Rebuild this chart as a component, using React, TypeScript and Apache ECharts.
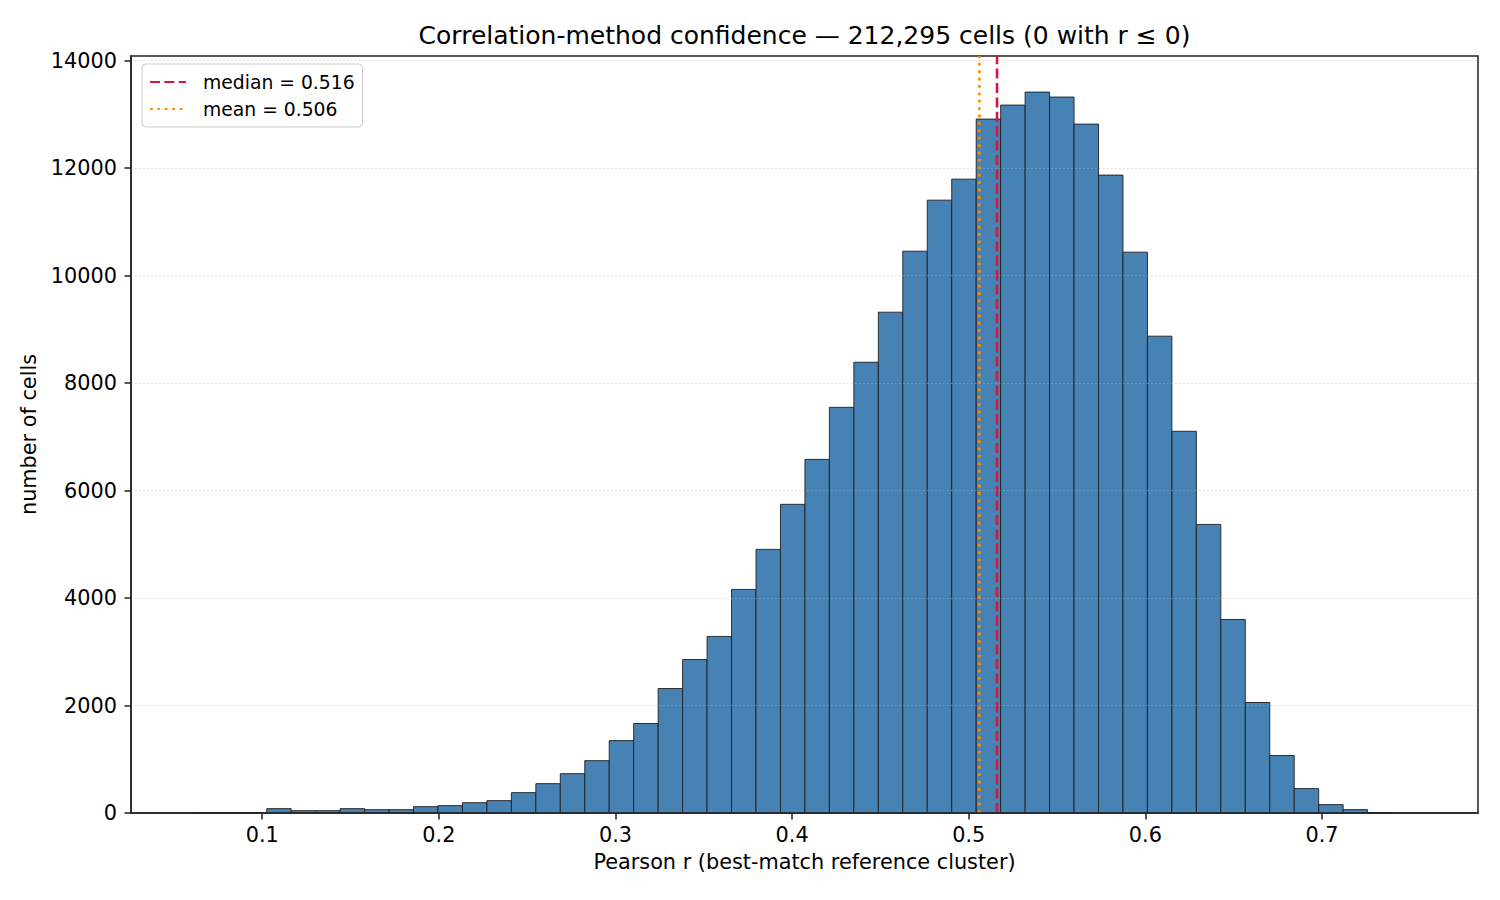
import React, { useEffect, useRef } from "react";
import * as echarts from "echarts";

// histogram of Pearson r, 50 equal-width bins
const BIN_START = 0.061;
const BIN_WIDTH = 0.01385;
const binCounts = [
  2, 2, 3, 81, 43, 43, 81, 62, 62, 118,
  137, 192, 230, 379, 546, 732, 974, 1347, 1665, 2316,
  2856, 3285, 4160, 4905, 5743, 6580, 7548, 8387, 9318, 10453,
  11403, 11794, 12911, 13172, 13414, 13321, 12818, 11869, 10435, 8872,
  7102, 5370, 3601, 2056, 1069, 454, 156, 63, 5, 0,
];
const xTicks = [0.1, 0.2, 0.3, 0.4, 0.5, 0.6, 0.7];
const yTicks = [0, 2000, 4000, 6000, 8000, 10000, 12000, 14000];
const MEDIAN = 0.516;
const MEAN = 0.506;
const Y_MAX = 14085;

const FONT = "DejaVu Sans";
const INK = "#222";

export default function App() {
  const chartRef = useRef<HTMLDivElement>(null);

  useEffect(() => {
    if (!chartRef.current) return;
    const chart = echarts.init(chartRef.current, undefined, { renderer: "svg" });

    const bins = binCounts.map((c, i) => [
      BIN_START + i * BIN_WIDTH,
      BIN_START + (i + 1) * BIN_WIDTH,
      c,
    ]);

    chart.setOption({
      animation: false,
      backgroundColor: "#fff",
      grid: {
        left: 131,
        right: 22,
        top: 56,
        bottom: 87,
        show: true,
        borderColor: INK,
        borderWidth: 1.5,
      },
      graphic: [
        {
          type: "text",
          x: 804.5,
          y: 35,
          style: {
            text: "Correlation-method confidence — 212,295 cells (0 with r ≤ 0)",
            align: "center",
            verticalAlign: "middle",
            fontSize: 25,
            fontFamily: FONT,
            fill: "#000",
          },
        },
      ],
      legend: {
        left: 142,
        top: 64,
        orient: "vertical",
        backgroundColor: "rgba(255,255,255,0.8)",
        borderColor: "#cccccc",
        borderWidth: 1,
        borderRadius: 4,
        padding: [8, 8, 8, 7],
        itemWidth: 36,
        itemHeight: 14,
        itemGap: 7,
        itemStyle: { opacity: 0 },
        textStyle: {
          fontSize: 18.75,
          fontFamily: FONT,
          color: "#000",
          lineHeight: 20,
          padding: [0, 0, 0, 12],
        },
        data: ["median = 0.516", "mean = 0.506"],
      },
      xAxis: {
        type: "value",
        min: 0.0257,
        max: 0.7883,
        z: 10,
        name: "Pearson r (best-match reference cluster)",
        nameLocation: "middle",
        nameGap: 38,
        nameTextStyle: { fontSize: 20.8, fontFamily: FONT, color: "#000" },
        axisLine: { show: true, lineStyle: { color: INK, width: 1.5 } },
        axisTick: {
          show: true,
          length: 6.5,
          customValues: xTicks,
          lineStyle: { color: INK, width: 1.5 },
        },
        axisLabel: {
          customValues: xTicks,
          margin: 11,
          fontSize: 20.8,
          fontFamily: FONT,
          color: "#000",
          formatter: (v: number) => v.toFixed(1),
        },
        splitLine: { show: false },
      },
      yAxis: {
        type: "value",
        min: 0,
        max: Y_MAX,
        interval: 2000,
        z: 10,
        name: "number of cells",
        nameLocation: "middle",
        nameGap: 90,
        nameTextStyle: { fontSize: 20.8, fontFamily: FONT, color: "#000" },
        axisLine: { show: true, lineStyle: { color: INK, width: 1.5 } },
        axisTick: {
          show: true,
          length: 6.5,
          customValues: yTicks,
          lineStyle: { color: INK, width: 1.5 },
        },
        axisLabel: {
          customValues: yTicks,
          margin: 14,
          fontSize: 20.8,
          fontFamily: FONT,
          color: "#000",
          formatter: (v: number) => String(v),
        },
        splitLine: {
          show: true,
          lineStyle: { color: "rgba(176,176,176,0.5)", width: 1, type: [1.5, 2.5] },
        },
      },
      series: [
        {
          type: "custom",
          name: "hist",
          data: bins,
          encode: { x: [0, 1], y: 2 },
          z: 2,
          renderItem: (params: any, api: any) => {
            const count = api.value(2);
            if (!count) return null;
            const p0 = api.coord([api.value(0), count]);
            const p1 = api.coord([api.value(1), 0]);
            return {
              type: "rect",
              shape: { x: p0[0], y: p0[1], width: p1[0] - p0[0], height: p1[1] - p0[1] },
              style: { fill: "#4682B4", stroke: "#1f1f1f", lineWidth: 0.9 },
            };
          },
        },
        {
          type: "line",
          name: "median = 0.516",
          data: [[MEDIAN, 0], [MEDIAN, Y_MAX]],
          symbol: "none",
          z: 5,
          color: "#DC143C",
          lineStyle: { color: "#DC143C", width: 2.6, type: [10, 4.4] },
        },
        {
          type: "line",
          name: "mean = 0.506",
          data: [[MEAN, 0], [MEAN, Y_MAX]],
          symbol: "none",
          z: 5,
          color: "#FF8C00",
          lineStyle: { color: "#FF8C00", width: 2.6, type: [2.8, 4.6] },
        },
      ],
    });

    return () => {
      chart.dispose();
    };
  }, []);

  return (
    <div
      ref={chartRef}
      style={{ position: "fixed", left: 0, top: 0, width: 1500, height: 900, background: "#fff" }}
    />
  );
}
